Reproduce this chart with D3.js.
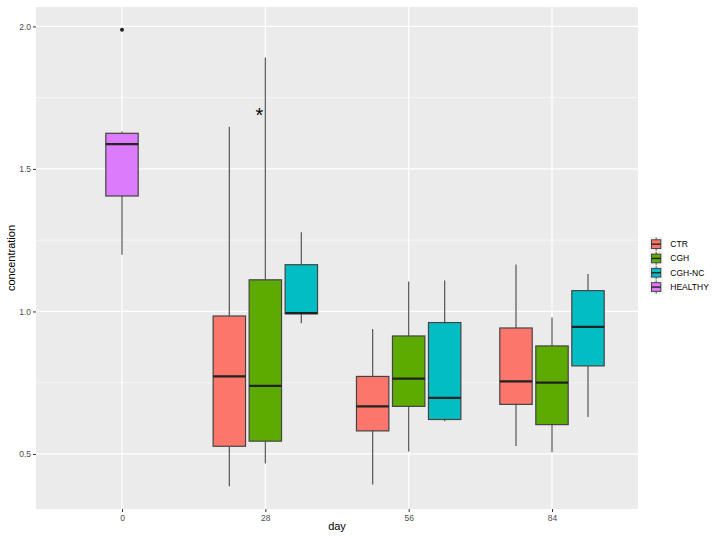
<!DOCTYPE html>
<html>
<head>
<meta charset="utf-8">
<script src="https://cdn.jsdelivr.net/npm/d3@7"></script>
<style>
  html, body { margin: 0; padding: 0; background: #fff; }
  svg { display: block; font-family: "Liberation Sans", Arial, sans-serif; }
</style>
</head>
<body>
<svg id="chart" width="716" height="539"></svg>
<script>
// ── Data ──────────────────────────────────────────────────────────────────
const DAYS   = ['0', '28', '56', '84'];
const GROUPS = ['CTR', 'CGH', 'CGH-NC', 'HEALTHY'];
const COLORS = ['#FC766B', '#5DAB00', '#00BEC4', '#DC7BFC'];

const BOX_DAY   = ['0', '28', '28', '28', '56', '56', '56', '84', '84', '84'];
const BOX_GROUP = ['HEALTHY', 'CTR', 'CGH', 'CGH-NC', 'CTR', 'CGH', 'CGH-NC', 'CTR', 'CGH', 'CGH-NC'];
const LOWER  = [1.199, 0.387, 0.467, 0.959, 0.393, 0.509, 0.615, 0.528, 0.506, 0.630];
const Q1     = [1.405, 0.527, 0.545, 0.992, 0.581, 0.667, 0.621, 0.674, 0.603, 0.809];
const MEDIAN = [1.587, 0.772, 0.739, 0.994, 0.667, 0.764, 0.697, 0.755, 0.750, 0.946];
const Q3     = [1.625, 0.984, 1.111, 1.164, 0.772, 0.914, 0.961, 0.942, 0.879, 1.073];
const UPPER  = [1.631, 1.648, 1.891, 1.278, 0.938, 1.105, 1.109, 1.165, 0.979, 1.131];

const OUTLIER_DAY   = ['0'];
const OUTLIER_GROUP = ['HEALTHY'];
const OUTLIER_VALUE = [1.988];

const Y_TICKS = [0.5, 1.0, 1.5, 2.0];
const Y_MINOR = [0.75, 1.25, 1.75];

// significance mark over CGH at day 28
const MARK = { day: '28', value: 1.697, text: '*' };

// ── Layout ────────────────────────────────────────────────────────────────
const svg = d3.select('#chart');
const P = { left: 36, right: 638, top: 7, bottom: 509 };
const DODGE = 36, BOX_W = 32.4;

const boxes = BOX_DAY.map((d, i) => ({
  day: d, group: BOX_GROUP[i],
  lo: LOWER[i], q1: Q1[i], med: MEDIAN[i], q3: Q3[i], hi: UPPER[i]
}));

const x = d3.scalePoint().domain(DAYS).range([P.left, P.right]).padding(0.6);

// data range + 5% expansion, like ggplot
const allVals = LOWER.concat(UPPER, OUTLIER_VALUE);
const yMin = d3.min(allVals), yMax = d3.max(allVals), pad = (yMax - yMin) * 0.05;
const y = d3.scaleLinear().domain([yMin - pad, yMax + pad]).range([P.bottom, P.top]);

const color = d3.scaleOrdinal().domain(GROUPS).range(COLORS);

// dodge position inside each day
function xPos(day, group) {
  const present = GROUPS.filter(g => boxes.some(b => b.day === day && b.group === g));
  const band = d3.scaleBand().domain(present)
    .range([-present.length * DODGE / 2, present.length * DODGE / 2]);
  return x(day) + band(group) + band.bandwidth() / 2;
}

// ── Panel + grid ──────────────────────────────────────────────────────────
svg.append('rect')
  .attr('x', P.left).attr('y', P.top)
  .attr('width', P.right - P.left).attr('height', P.bottom - P.top)
  .attr('fill', '#EBEBEB');

const grid = svg.append('g');
Y_MINOR.forEach(v => {
  grid.append('line')
    .attr('x1', P.left).attr('x2', P.right)
    .attr('y1', y(v)).attr('y2', y(v))
    .attr('stroke', '#fff').attr('stroke-width', 0.6);
});
Y_TICKS.forEach(v => {
  grid.append('line')
    .attr('x1', P.left).attr('x2', P.right)
    .attr('y1', y(v)).attr('y2', y(v))
    .attr('stroke', '#fff').attr('stroke-width', 1.2);
});
DAYS.forEach(d => {
  grid.append('line')
    .attr('x1', x(d)).attr('x2', x(d))
    .attr('y1', P.top).attr('y2', P.bottom)
    .attr('stroke', '#fff').attr('stroke-width', 1.2);
});

// ── Axes ──────────────────────────────────────────────────────────────────
const styleAxis = g => {
  g.select('.domain').remove();
  g.selectAll('line').attr('stroke', '#333');
  g.selectAll('text').attr('fill', '#4D4D4D').attr('font-size', '8.5px');
};

svg.append('g')
  .attr('transform', `translate(0,${P.bottom})`)
  .call(d3.axisBottom(x).tickSize(3).tickPadding(3))
  .call(styleAxis);

svg.append('g')
  .attr('transform', `translate(${P.left},0)`)
  .call(d3.axisLeft(y).tickValues(Y_TICKS).tickFormat(d3.format('.1f')).tickSize(3).tickPadding(2))
  .call(styleAxis);

svg.append('text')
  .attr('x', (P.left + P.right) / 2).attr('y', 530)
  .attr('text-anchor', 'middle')
  .attr('font-size', '11px').attr('fill', '#000')
  .text('day');

svg.append('text')
  .attr('transform', `translate(15,${(P.top + P.bottom) / 2}) rotate(-90)`)
  .attr('text-anchor', 'middle')
  .attr('font-size', '11px').attr('fill', '#000')
  .text('concentration');

// ── Boxes ─────────────────────────────────────────────────────────────────
const boxG = svg.append('g');
boxes.forEach(b => {
  const cx = xPos(b.day, b.group);
  boxG.append('line')
    .attr('x1', cx).attr('x2', cx).attr('y1', y(b.hi)).attr('y2', y(b.q3))
    .attr('stroke', '#555').attr('stroke-width', 1.2);
  boxG.append('line')
    .attr('x1', cx).attr('x2', cx).attr('y1', y(b.q1)).attr('y2', y(b.lo))
    .attr('stroke', '#555').attr('stroke-width', 1.2);
  boxG.append('rect')
    .attr('x', cx - BOX_W / 2).attr('width', BOX_W)
    .attr('y', y(b.q3)).attr('height', y(b.q1) - y(b.q3))
    .attr('fill', color(b.group))
    .attr('stroke', '#444').attr('stroke-width', 1.2);
  boxG.append('line')
    .attr('x1', cx - BOX_W / 2).attr('x2', cx + BOX_W / 2)
    .attr('y1', y(b.med)).attr('y2', y(b.med))
    .attr('stroke', '#222').attr('stroke-width', 2.2);
});

OUTLIER_VALUE.forEach((v, i) => {
  boxG.append('circle')
    .attr('cx', xPos(OUTLIER_DAY[i], OUTLIER_GROUP[i]))
    .attr('cy', y(v)).attr('r', 2)
    .attr('fill', '#222');
});

svg.append('text')
  .attr('x', xPos(MARK.day, 'CGH') - 6).attr('y', y(MARK.value) + 9)
  .attr('text-anchor', 'middle')
  .attr('font-size', '20px').attr('fill', '#000')
  .text(MARK.text);

// ── Legend ────────────────────────────────────────────────────────────────
const legend = svg.append('g').attr('transform', 'translate(649,237)');
const KEY = 14.3;
GROUPS.forEach((g, i) => {
  const row = legend.append('g').attr('transform', `translate(0,${i * KEY})`);
  row.append('rect')
    .attr('width', KEY).attr('height', KEY)
    .attr('fill', '#F2F2F2');
  row.append('line')
    .attr('x1', KEY / 2).attr('x2', KEY / 2).attr('y1', 0.5).attr('y2', KEY - 0.5)
    .attr('stroke', '#555').attr('stroke-width', 1);
  row.append('rect')
    .attr('x', 2.5).attr('y', 2.8)
    .attr('width', KEY - 5).attr('height', KEY - 5.6)
    .attr('fill', color(g))
    .attr('stroke', '#444').attr('stroke-width', 1);
  row.append('line')
    .attr('x1', 2.5).attr('x2', KEY - 2.5).attr('y1', KEY / 2).attr('y2', KEY / 2)
    .attr('stroke', '#222').attr('stroke-width', 1.4);
  row.append('text')
    .attr('x', KEY + 7).attr('y', KEY / 2)
    .attr('dominant-baseline', 'central')
    .attr('font-size', '8.5px').attr('fill', '#000')
    .text(g);
});
</script>
</body>
</html>
